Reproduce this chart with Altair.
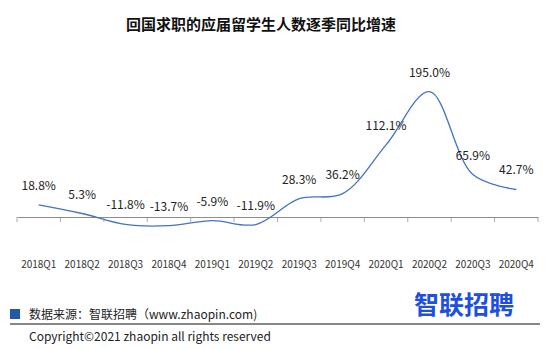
import altair as alt
import pandas as pd

quarters = ["2018Q1", "2018Q2", "2018Q3", "2018Q4", "2019Q1", "2019Q2",
            "2019Q3", "2019Q4", "2020Q1", "2020Q2", "2020Q3", "2020Q4"]
values = [18.8, 5.3, -11.8, -13.7, -5.9, -11.9, 28.3, 36.2, 112.1, 195.0, 65.9, 42.7]
labels = [f"{v:.1f}%" for v in values]

title_text = "回国求职的应届留学生人数逐季同比增速"
source_text = "数据来源：智联招聘（www.zhaopin.com)"
copyright_text = "Copyright©2021 zhaopin all rights reserved"
logo_text = "智联招聘"

df = pd.DataFrame({"q": quarters, "v": values, "label": labels})

W, H = 521, 199
STEP = W / len(quarters)
FONT = "Noto Sans CJK SC"
AXIS_GRAY = "#8c8c8c"

x_enc = alt.X("q:N", sort=quarters, title=None,
              axis=alt.Axis(domain=False, ticks=False, labelAngle=0, labelFontSize=10,
                            labelColor="#333333", labelPadding=10, labelFont=FONT))
y_scale = alt.Scale(domain=[-50, 260], nice=False)
y_enc = alt.Y("v:Q", scale=y_scale, title=None,
              axis=alt.Axis(values=[0], grid=True, gridColor=AXIS_GRAY, gridOpacity=1,
                            labels=False, ticks=False, domain=False))

base = alt.Chart(df)

line = base.mark_line(interpolate="catmull-rom", color="#4472C4", strokeWidth=1.3).encode(x=x_enc, y=y_enc)
text = base.mark_text(dy=-19, fontSize=12, color="#222222", font=FONT).encode(
    x=alt.X("q:N", sort=quarters), y="v:Q", text="label:N")

ticks = base.transform_calculate(z="0").mark_tick(
    orient="vertical", size=5, thickness=1, color=AXIS_GRAY, xOffset=-STEP / 2, yOffset=2.5
).encode(x=alt.X("q:N", sort=quarters), y=alt.Y("z:Q"))
last_tick = base.transform_filter(alt.datum.q == quarters[-1]).transform_calculate(z="0").mark_tick(
    orient="vertical", size=5, thickness=1, color=AXIS_GRAY, xOffset=STEP / 2, yOffset=2.5
).encode(x=alt.X("q:N", sort=quarters), y=alt.Y("z:Q"))


def note(t, **kw):
    d = pd.DataFrame({"t": [t]})
    return alt.Chart(d).mark_text(font=FONT, **kw)


title = note(title_text, fontSize=15, fontWeight="bold", color="#111111").encode(
    text="t:N", x=alt.value(244), y=alt.value(-25))
source = note(source_text, fontSize=12, align="left", color="#222222").encode(
    text="t:N", x=alt.value(12), y=alt.value(265))
copyright_ = note(copyright_text, fontSize=12, align="left", color="#222222").encode(
    text="t:N", x=alt.value(12), y=alt.value(287))
logo = note(logo_text, fontSize=25, fontWeight="bold", color="#1E4FE0").encode(
    text="t:N", x=alt.value(447), y=alt.value(256))
square = alt.Chart(pd.DataFrame({"t": ["s"]})).mark_rect(color="#1F5AA6").encode(
    x=alt.value(-7), x2=alt.value(3), y=alt.value(259), y2=alt.value(269))
hline = alt.Chart(pd.DataFrame({"t": ["l"]})).mark_rule(color="#111111", strokeWidth=1.2).encode(
    x=alt.value(-7), x2=alt.value(523), y=alt.value(274))

chart = alt.layer(line, ticks, last_tick, text, title, square, source, hline, copyright_, logo
).properties(
    width=W, height=H,
    autosize=alt.AutoSizeParams(type="none"),
    padding={"left": 17, "top": 50, "right": 15, "bottom": 100},
    background="white",
).configure_view(stroke=None)

chart.save("out.html", embed_options={"renderer": "svg", "actions": False})
